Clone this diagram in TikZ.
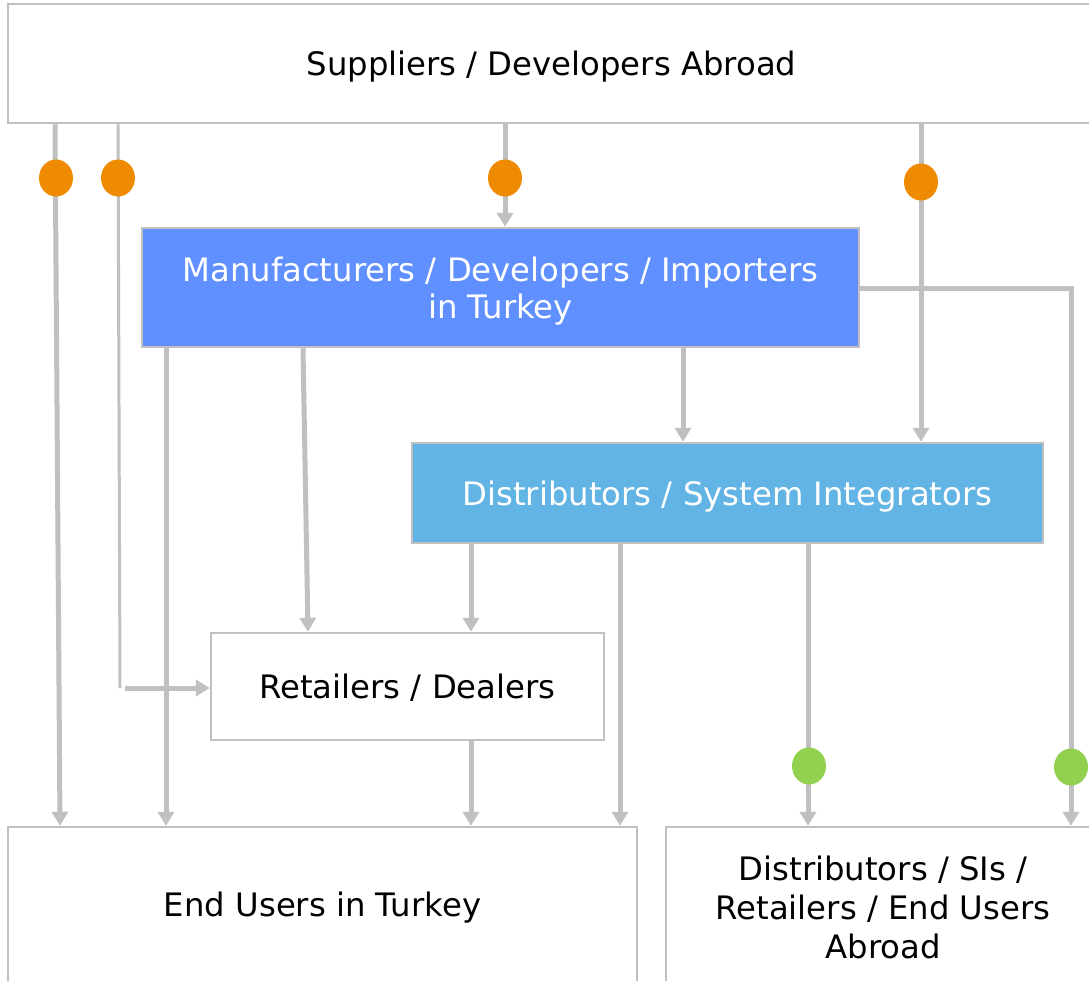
\documentclass[tikz,border=0pt]{standalone}
\usepackage{fontspec}
\setmainfont{DejaVu Sans}
\usetikzlibrary{arrows.meta, positioning, shapes.geometric}

\definecolor{lgray}{HTML}{BFC0BF}
\definecolor{dotorange}{HTML}{EE8B00}
\definecolor{dotgreen}{HTML}{92D050}
\definecolor{manblue}{HTML}{6090FF}
\definecolor{disblue}{HTML}{62B4E4}

\begin{document}
\begin{tikzpicture}[x=1pt, y=-1pt, >={Triangle[width=16pt,length=14pt]}, font=\fontsize{32.3}{39}\selectfont]
  \tikzset{
    box/.style={rectangle, draw=lgray, line width=2.5pt, inner sep=0pt, align=center},
    flat/.style={text depth=0pt},
    link/.style={draw=lgray, line width=5pt},
    finelink/.style={draw=lgray, line width=3pt},
    odot/.style={ellipse, fill=dotorange, minimum width=34pt, minimum height=37pt, inner sep=0pt},
    gdot/.style={ellipse, fill=dotgreen, minimum width=34pt, minimum height=37pt, inner sep=0pt}
  }
  \useasboundingbox (0,0) rectangle (1089,980);

  % boxes
  \node[box, flat, minimum width=1087pt, minimum height=119pt] (sup) at (551.5,63.5) {Suppliers / Developers Abroad};
  \node[box, flat, fill=manblue, text=white, minimum width=717pt, minimum height=119pt] (man) at (500.5,287.5) {Manufacturers / Developers / Importers\\[-2pt]in Turkey};
  \node[box, flat, fill=disblue, text=white, minimum width=631pt, minimum height=100pt] (dis) at (727.5,493) {Distributors / System Integrators};
  \node[box, flat, minimum width=393pt, minimum height=107pt] (ret) at (407.5,686.5) {Retailers / Dealers};
  \node[box, minimum width=629pt, minimum height=161pt] (eut) at (322.5,907.5) {End Users in Turkey};
  \node[box, minimum width=434pt, minimum height=161pt] (abr) at (883,907.5) {Distributors / SIs /\\Retailers / End Users\\Abroad};

  \coordinate (bend) at (120,688);
  \coordinate (corner) at (1071,288);

  % from suppliers
  \path[link, ->] (sup.south -| 55,0) -- (eut.north -| 60,0);
  \path[finelink] (sup.south -| 118,0) -- (bend);
  \path[link, ->] (bend -| 125,0) -- (ret.west |- bend);
  \path[link, ->] (sup.south -| 505,0) -- (man.north -| 505,0);
  \path[link, ->] (sup.south -| 921,0) -- (dis.north -| 921,0);

  % from manufacturers
  \path[link, ->] (man.east |- corner) -- (corner) -- (abr.north -| corner);
  \path[link, ->] (man.south -| 166,0) -- (eut.north -| 166,0);
  \path[link, ->] (man.south -| 303,0) -- (ret.north -| 308,0);
  \path[link, ->] (man.south -| 683,0) -- (dis.north -| 683,0);

  % from distributors
  \path[link, ->] (dis.south -| 471,0) -- (ret.north -| 471,0);
  \path[link, ->] (dis.south -| 620,0) -- (eut.north -| 620,0);
  \path[link, ->] (dis.south -| 808,0) -- (abr.north -| 808,0);

  % from retailers
  \path[link, ->] (ret.south -| 471,0) -- (eut.north -| 471,0);

  % dots
  \node[odot] (o1) at (56,178) {};
  \node[odot] (o2) at (118,178) {};
  \node[odot] (o3) at (505,178) {};
  \node[odot] (o4) at (921,182) {};
  \node[gdot] (g1) at (809,766) {};
  \node[gdot] (g2) at (1071,767) {};

\end{tikzpicture}
\end{document}
